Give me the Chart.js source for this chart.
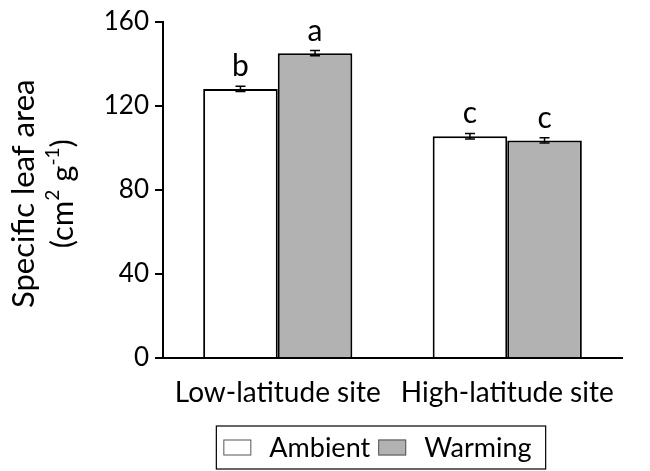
<!DOCTYPE html>
<html>
<head>
<meta charset="utf-8">
<script src="https://cdn.jsdelivr.net/npm/chart.js@4"></script>
<style>
  html, body { margin: 0; padding: 0; background: #fff; }
  #wrap { width: 650px; height: 471px; }
</style>
</head>
<body>
<div id="wrap"><canvas id="slaChart"></canvas></div>
<script>
// data
const sites = ['Low-latitude site', 'High-latitude site'];
const ambient = [128, 105.5];
const warming = [145, 103.5];
const ambientErr = [1.2, 1.3];
const warmingErr = [1.2, 1.3];
const ambientLetters = ['b', 'c'];
const warmingLetters = ['a', 'c'];
const yTicks = [0, 40, 80, 120, 160];

const FONT = 'Lato, "DejaVu Sans", sans-serif';

// error bars + significance letters
const errorBars = {
  id: 'errorBars',
  afterDatasetsDraw(chart) {
    const ctx = chart.ctx;
    const y = chart.scales.y;
    chart.data.datasets.forEach((ds, di) => {
      const meta = chart.getDatasetMeta(di);
      meta.data.forEach((bar, i) => {
        const v = ds.data[i], e = ds.errors[i];
        const top = y.getPixelForValue(v + e);
        const bot = y.getPixelForValue(v - e);
        ctx.save();
        ctx.strokeStyle = '#000';
        ctx.lineWidth = 1.5;
        ctx.beginPath();
        ctx.moveTo(bar.x, top); ctx.lineTo(bar.x, bot);
        ctx.moveTo(bar.x - 5, top); ctx.lineTo(bar.x + 5, top);
        ctx.moveTo(bar.x - 5, bot); ctx.lineTo(bar.x + 5, bot);
        ctx.stroke();
        ctx.fillStyle = '#000';
        ctx.font = '30px ' + FONT;
        ctx.textAlign = 'center';
        ctx.textBaseline = 'alphabetic';
        ctx.fillText(ds.letters[i], bar.x, top - 10);
        ctx.restore();
      });
    });
  }
};

// y-axis title with real superscripts
const yTitle = {
  id: 'yTitle',
  afterDraw(chart) {
    const ctx = chart.ctx;
    const area = chart.chartArea;
    const cy = (area.top + area.bottom) / 2 + 4;
    ctx.save();
    ctx.fillStyle = '#000';
    ctx.textBaseline = 'middle';
    ctx.translate(24, cy);
    ctx.rotate(-Math.PI / 2);
    ctx.font = '31px ' + FONT;
    ctx.textAlign = 'center';
    ctx.fillText('Specific leaf area', 0, 0);
    // second line: (cm2 g-1)
    const parts = [['(cm', false], ['2', true], [' g', false], ['-1', true], [')', false]];
    const big = '31px ' + FONT, small = '19px ' + FONT;
    let total = 0;
    parts.forEach(p => { ctx.font = p[1] ? small : big; total += ctx.measureText(p[0]).width; });
    let x = -total / 2;
    ctx.textAlign = 'left';
    parts.forEach(p => {
      ctx.font = p[1] ? small : big;
      ctx.fillText(p[0], x, 39 + (p[1] ? -10 : 0));
      x += ctx.measureText(p[0]).width;
    });
    ctx.restore();
  }
};

// legend drawn in a frame below the axis
const frameLegend = {
  id: 'frameLegend',
  afterDraw(chart) {
    const ctx = chart.ctx;
    const ds = chart.data.datasets;
    ctx.save();
    ctx.font = '27px ' + FONT;
    const boxW = 28, boxH = 16, gap = 18, itemGap = 8;
    let w = 0;
    ds.forEach((d, i) => { w += boxW + gap + ctx.measureText(d.label).width + (i < ds.length - 1 ? itemGap : 0); });
    const cx = 381, cy = 447.5;
    let x = cx - (w + 7 + 14) / 2 + 7;
    ctx.strokeStyle = '#000';
    ctx.lineWidth = 1.2;
    ctx.strokeRect(x - 7, cy - 21.5, w + 21, 43);
    ctx.textBaseline = 'middle';
    ctx.textAlign = 'left';
    ds.forEach((d) => {
      ctx.fillStyle = d.backgroundColor;
      ctx.fillRect(x, cy - boxH / 2, boxW, boxH);
      ctx.strokeStyle = '#555';
      ctx.lineWidth = 1;
      ctx.strokeRect(x + 0.5, cy - boxH / 2 + 0.5, boxW - 1, boxH - 1);
      x += boxW + gap;
      ctx.fillStyle = '#000';
      ctx.fillText(d.label, x, cy + 1);
      x += ctx.measureText(d.label).width + itemGap;
    });
    ctx.restore();
  }
};

new Chart(document.getElementById('slaChart'), {
  type: 'bar',
  data: {
    labels: sites,
    datasets: [{
      label: 'Ambient',
      data: ambient,
      errors: ambientErr,
      letters: ambientLetters,
      backgroundColor: '#ffffff',
      borderColor: '#000000',
      borderWidth: 2,
      borderSkipped: 'bottom'
    }, {
      label: 'Warming',
      data: warming,
      errors: warmingErr,
      letters: warmingLetters,
      backgroundColor: '#b2b2b2',
      borderColor: '#000000',
      borderWidth: 2,
      borderSkipped: 'bottom'
    }]
  },
  options: {
    responsive: true,
    maintainAspectRatio: false,
    animation: false,
    layout: { padding: { top: 21, right: 28, bottom: 58, left: 0 } },
    datasets: { bar: { categoryPercentage: 0.65, barPercentage: 1.0 } },
    plugins: {
      legend: { display: false },
      tooltip: { enabled: false }
    },
    scales: {
      x: {
        grid: { display: false, drawTicks: false },
        border: { color: '#000', width: 2 },
        ticks: {
          color: '#000', font: { family: FONT, size: 28 }, padding: 18,
          maxRotation: 0, minRotation: 0, autoSkip: false
        },
        afterFit(s) { s.height = 55; }
      },
      y: {
        min: 0,
        max: 160,
        afterBuildTicks(s) { s.ticks = yTicks.map(v => ({ value: v })); },
        grid: { drawOnChartArea: false, drawTicks: true, tickLength: 8, color: '#000', lineWidth: 2 },
        border: { color: '#000', width: 2 },
        ticks: { color: '#000', font: { family: FONT, size: 26 }, padding: 6 },
        afterFit(s) { s.width = 163; }
      }
    }
  },
  plugins: [errorBars, yTitle, frameLegend]
});
</script>
</body>
</html>
